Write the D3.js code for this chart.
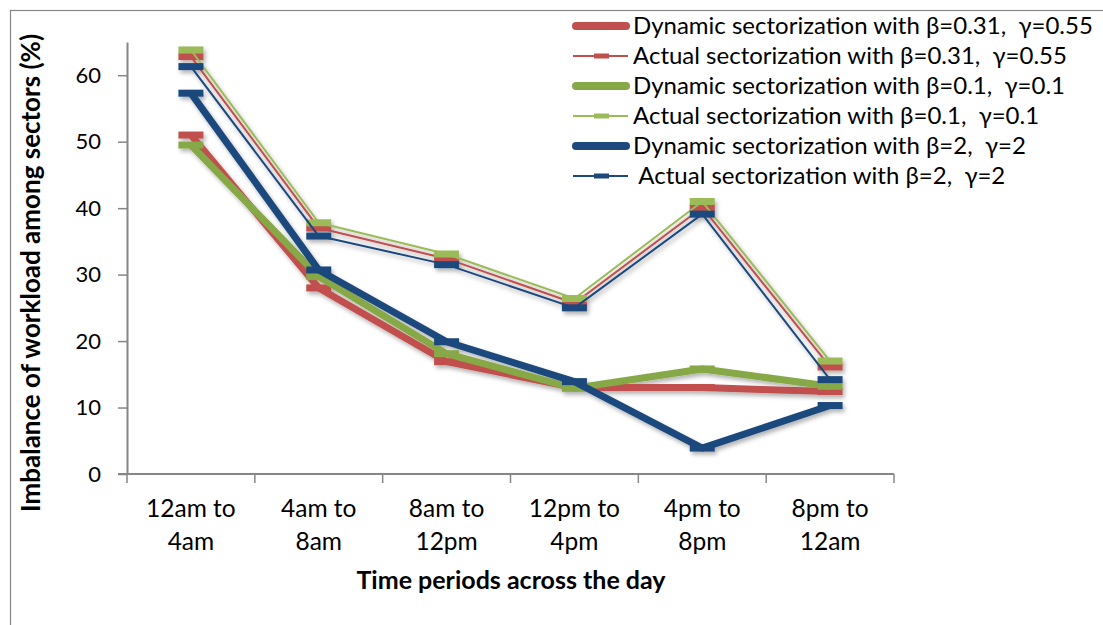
<!DOCTYPE html>
<html>
<head>
<meta charset="utf-8">
<script src="https://cdn.jsdelivr.net/npm/d3@7"></script>
<style>
  html, body { margin: 0; padding: 0; background: #fff; }
  svg { display: block; }
  text { font-family: Lato, "Noto Sans", sans-serif; fill: #000; white-space: pre; }
</style>
</head>
<body>
<svg id="chart" width="1103" height="625"></svg>
<script>
// Time periods on the x axis (two-line labels)
const periods = ["12am to|4am", "4am to|8am", "8am to|12pm", "12pm to|4pm", "4pm to|8pm", "8pm to|12am"];

// Workload imbalance among sectors (%) per period
const dynamic031 = [51.0, 28.0, 16.9, 13.0, 13.0, 12.4];
const actual031  = [62.8, 37.0, 32.4, 25.7, 40.1, 16.1];
const dynamic01  = [49.5, 29.7, 18.1, 12.9, 15.8, 13.2];
const actual01   = [63.8, 37.8, 33.1, 26.4, 41.0, 17.0];
const dynamic2   = [57.3, 30.7, 19.9, 13.9, 3.9, 10.3];
const actual2    = [61.3, 35.8, 31.5, 25.0, 39.1, 14.2];

const seriesNames = [
  "Dynamic sectorization with \u03b2=0.31,  \u03b3=0.55",
  "Actual sectorization with \u03b2=0.31,  \u03b3=0.55",
  "Dynamic sectorization with \u03b2=0.1,  \u03b3=0.1",
  "Actual sectorization with \u03b2=0.1,  \u03b3=0.1",
  "Dynamic sectorization with \u03b2=2,  \u03b3=2",
  " Actual sectorization with \u03b2=2,  \u03b3=2"
];
const yTicks = [0, 10, 20, 30, 40, 50, 60];

const series = [
  { name: seriesNames[0], values: dynamic031, color: "#C0504D", width: 7,   kind: "dynamic" },
  { name: seriesNames[1], values: actual031,  color: "#C0504D", width: 2,   kind: "actual" },
  { name: seriesNames[2], values: dynamic01,  color: "#86A846", width: 7,   kind: "dynamic" },
  { name: seriesNames[3], values: actual01,   color: "#9BBB59", width: 2,   kind: "actual" },
  { name: seriesNames[4], values: dynamic2,   color: "#1F497D", width: 7,   kind: "dynamic" },
  { name: seriesNames[5], values: actual2,    color: "#1F497D", width: 2,   kind: "actual" }
];

const svg = d3.select("#chart");
const axisColor = "#868686";

// soft shadow under the data lines and markers
const defs = svg.append("defs");
const f = defs.append("filter").attr("id", "shadow")
  .attr("x", "-10%").attr("y", "-10%").attr("width", "130%").attr("height", "130%");
f.append("feDropShadow").attr("dx", 2).attr("dy", 3).attr("stdDeviation", 2)
  .attr("flood-color", "#000").attr("flood-opacity", 0.3);

// chart frame
svg.append("rect").attr("x", 10.5).attr("y", 10.5).attr("width", 1200).attr("height", 700)
  .attr("fill", "none").attr("stroke", axisColor).attr("stroke-width", 1.2);

const plot = { left: 127, right: 894, top: 42, bottom: 474 };

const x = d3.scaleBand().domain(periods).range([plot.left, plot.right]).paddingInner(0).paddingOuter(0);
const y = d3.scaleLinear().domain([0, 65]).range([plot.bottom, plot.top]);
const cx = d => x(d) + x.bandwidth() / 2;

// y axis
const yAxis = svg.append("g").attr("transform", `translate(${plot.left},0)`)
  .call(d3.axisLeft(y).tickValues(yTicks).tickSize(9).tickPadding(17).tickSizeOuter(0));
yAxis.select(".domain").attr("stroke", axisColor).attr("stroke-width", 2);
yAxis.selectAll(".tick line").attr("stroke", axisColor).attr("stroke-width", 1.5);
yAxis.selectAll(".tick text").attr("font-family", "Lato, sans-serif").attr("font-size", 22).attr("fill", "#000");

// x axis: ticks at category boundaries
const xAxisG = svg.append("g").attr("transform", `translate(0,${plot.bottom})`);
xAxisG.append("line").attr("x1", plot.left - 9).attr("x2", plot.right)
  .attr("stroke", axisColor).attr("stroke-width", 2);
const boundaries = periods.map(p => x(p)).concat([plot.right]);
xAxisG.selectAll("line.tk").data(boundaries).join("line").attr("class", "tk")
  .attr("x1", d => d).attr("x2", d => d).attr("y1", 0).attr("y2", 9)
  .attr("stroke", axisColor).attr("stroke-width", 1.5);
const xl = xAxisG.selectAll("text.xl").data(periods).join("text").attr("class", "xl")
  .attr("text-anchor", "middle").attr("font-size", 24.5)
  .attr("transform", d => `translate(${cx(d)},0)`);
xl.append("tspan").attr("x", 0).attr("y", 43).text(d => d.split("|")[0]);
xl.append("tspan").attr("x", 0).attr("y", 76).text(d => d.split("|")[1]);

// axis titles
svg.append("text").attr("x", 511).attr("y", 589).attr("text-anchor", "middle")
  .attr("font-size", 25).attr("font-weight", "bold").text("Time periods across the day");
svg.append("text").attr("transform", `translate(40,273) rotate(-90)`).attr("text-anchor", "middle")
  .attr("font-size", 26).attr("font-weight", "bold").text("Imbalance of workload among sectors (%)");

// data lines + dash markers
const line = d3.line().x((d, i) => cx(periods[i])).y(d => y(d));
const dataG = svg.append("g").attr("filter", "url(#shadow)");
series.forEach(s => {
  const g = dataG.append("g");
  g.append("path").attr("d", line(s.values)).attr("fill", "none")
    .attr("stroke", s.color).attr("stroke-width", s.width).attr("stroke-linejoin", "round");
  g.selectAll("rect").data(s.values).join("rect")
    .attr("x", (d, i) => cx(periods[i]) - 12.5).attr("y", d => y(d) - 3.5)
    .attr("width", 25).attr("height", 7).attr("fill", s.color);
});

// legend
const leg = svg.append("g");
series.forEach((s, i) => {
  const yy = 26 + i * 30;
  const g = leg.append("g");
  if (s.kind === "dynamic") {
    g.append("line").attr("x1", 576).attr("x2", 626).attr("y1", yy).attr("y2", yy)
      .attr("stroke", s.color).attr("stroke-width", 8).attr("stroke-linecap", "round");
  } else {
    g.append("line").attr("x1", 573).attr("x2", 628).attr("y1", yy).attr("y2", yy)
      .attr("stroke", s.color).attr("stroke-width", 2);
    g.append("rect").attr("x", 594).attr("y", yy - 2.5).attr("width", 15).attr("height", 5).attr("fill", s.color);
  }
  g.append("text").attr("x", 633).attr("y", yy).attr("dy", "0.35em")
    .attr("font-size", 24).text(s.name);
});
</script>
</body>
</html>
